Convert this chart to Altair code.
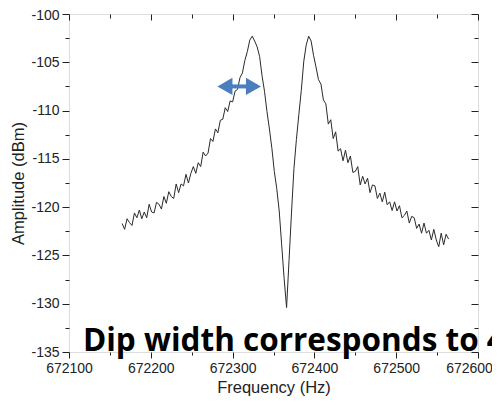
import altair as alt
import pandas as pd

freq = [
    672165, 672168, 672171, 672174, 672177, 672180, 672183, 672186, 672189, 672192,
    672195, 672198, 672201, 672204, 672207, 672210, 672213, 672216, 672219, 672222,
    672225, 672228, 672231, 672234, 672237, 672240, 672243, 672246, 672249, 672252,
    672255, 672258, 672261, 672264, 672267, 672270, 672273, 672276, 672279, 672282,
    672285, 672288, 672291, 672294, 672297, 672300, 672303, 672306, 672309, 672312,
    672315, 672318, 672321, 672324, 672327, 672330, 672333, 672336, 672339, 672342,
    672345, 672348, 672351, 672354, 672357, 672360, 672363, 672366, 672369, 672372,
    672375, 672378, 672381, 672384, 672387, 672390, 672393, 672396, 672399, 672402,
    672405, 672408, 672411, 672414, 672417, 672420, 672423, 672426, 672429, 672432,
    672435, 672438, 672441, 672444, 672447, 672450, 672453, 672456, 672459, 672462,
    672465, 672468, 672471, 672474, 672477, 672480, 672483, 672486, 672489, 672492,
    672495, 672498, 672501, 672504, 672507, 672510, 672513, 672516, 672519, 672522,
    672525, 672528, 672531, 672534, 672537, 672540, 672543, 672546, 672549, 672552,
    672555, 672558, 672561, 672564,
]

amplitude = [
    -121.7, -122.3, -121.2, -121.6, -121.9, -120.6, -121.1, -120.3, -121.2, -120.5,
    -121.1, -119.7, -120.5, -120.6, -119.5, -119.7, -120.2, -118.9, -119.6, -118.4,
    -118.9, -119.1, -117.6, -118.5, -117.6, -117.8, -116.6, -117.5, -116.5, -115.8,
    -116.5, -115.4, -115.8, -114.3, -114.7, -114.4, -112.9, -113.2, -111.9, -112.3,
    -111.0, -110.9, -109.7, -110.1, -109.0, -109.1, -108.0, -107.8, -106.6, -106.1,
    -104.8, -103.9, -102.7, -102.3, -102.8, -103.4, -104.4, -106.4, -108.0, -110.1,
    -111.9, -113.9, -116.3, -118.1, -120.4, -123.9, -127.4, -130.4, -125.5, -120.6,
    -116.0, -113.0, -110.4, -107.9, -104.9, -103.2, -102.3, -102.8, -104.3, -105.5,
    -106.8, -107.25, -108.9, -109.3, -111.4, -110.95, -112.9, -112.2, -114.2, -113.95,
    -115.2, -114.1, -115.4, -114.7, -116.4, -116.3, -115.8, -117.7, -116.8, -117.6,
    -117.0, -118.5, -117.7, -117.8, -119.1, -118.55, -119.45, -118.45, -119.75, -119.45,
    -120.35, -119.45, -120.4, -119.85, -121.1, -120.85, -120.4, -121.65, -120.95, -121.1,
    -122.2, -121.75, -122.7, -121.65, -122.7, -122.4, -123.4, -122.3, -123.4, -124.1,
    -122.7, -123.9, -122.8, -123.3,
]

x_major = [672100, 672200, 672300, 672400, 672500, 672600]
x_minor = [672150, 672250, 672350, 672450, 672550]
y_major = [-135, -130, -125, -120, -115, -110, -105, -100]
y_minor = [-132.5, -127.5, -122.5, -117.5, -112.5, -107.5, -102.5]

arrow_x = [672290.6, 672325.5]
arrow_y = [-107.5, -107.5]
arrow_shape = ["triangle-left", "triangle-right"]

note_text = ["Dip width corresponds to 4"]
note_x = [672117]
note_y = [-134.85]

df = pd.DataFrame({"f": freq, "a": amplitude})
arrow_df = pd.DataFrame({"x": arrow_x, "y": arrow_y, "shape": arrow_shape})
note_df = pd.DataFrame({"x": note_x, "y": note_y, "t": note_text})

xs = alt.Scale(domain=[672100, 672600], nice=False, zero=False)
ys = alt.Scale(domain=[-135, -100], nice=False, zero=False)

FONT = "Liberation Sans"
INK = "#222222"

lab = dict(labelFont=FONT, labelFontSize=14, labelColor=INK, tickColor=INK,
           labelFlush=False, labelOverlap=False,
           domain=False, grid=False, titleFont=FONT, titleFontSize=16.5,
           titleFontWeight="normal", titleColor=INK)

main = alt.Chart(df).mark_line(color="#2a2a2a", strokeWidth=1).encode(
    x=alt.X("f:Q", scale=xs, axis=alt.Axis(orient="bottom", values=x_major,
            labelExpr="'' + datum.value", tickSize=6, labelPadding=3,
            labelOffset={"condition": {"test": "datum.value == 672600", "value": -9}, "value": 0},
            title="Frequency (Hz)", titlePadding=4, **lab)),
    y=alt.Y("a:Q", scale=ys, axis=alt.Axis(orient="left", values=y_major,
            labelExpr="'' + datum.value", tickSize=7, labelPadding=3,
            labelOffset={"condition": {"test": "datum.value == -100", "value": 1.5}, "value": 0},
            title="Amplitude (dBm)", titlePadding=4, **lab)),
)

minor = alt.Chart(df).mark_line(strokeOpacity=0).encode(
    x=alt.X("f:Q", scale=xs, axis=alt.Axis(orient="bottom", values=x_minor,
            labels=False, tickSize=3, title="", domain=False, grid=False, tickColor=INK)),
    y=alt.Y("a:Q", scale=ys, axis=alt.Axis(orient="left", values=y_minor,
            labels=False, tickSize=4, title="", domain=False, grid=False, tickColor=INK)),
)

top_major = alt.Chart(df).mark_line(strokeOpacity=0).encode(
    x=alt.X("f:Q", scale=xs, axis=alt.Axis(orient="top", values=x_major,
            labels=False, tickSize=6, offset=-6, title="", domain=False, grid=False, tickColor=INK)),
    y=alt.Y("a:Q", scale=ys, axis=alt.Axis(orient="right", values=y_major,
            labels=False, tickSize=7, offset=-7, title="", domain=False, grid=False, tickColor=INK)),
)

top_minor = alt.Chart(df).mark_line(strokeOpacity=0).encode(
    x=alt.X("f:Q", scale=xs, axis=alt.Axis(orient="top", values=x_minor,
            labels=False, tickSize=4, offset=-4, title="", domain=False, grid=False, tickColor=INK)),
    y=alt.Y("a:Q", scale=ys, axis=alt.Axis(orient="right", values=y_minor,
            labels=False, tickSize=4, offset=-4, title="", domain=False, grid=False, tickColor=INK)),
)

arrow_shaft = alt.Chart(arrow_df).mark_line(color="#4A7EBD", strokeWidth=4).encode(
    x=alt.X("x:Q", scale=xs, axis=None),
    y=alt.Y("y:Q", scale=ys, axis=None),
)

arrow_heads = alt.Chart(arrow_df).mark_point(filled=True, opacity=1, color="#4A7EBD", size=300).encode(
    x=alt.X("x:Q", scale=xs, axis=None),
    y=alt.Y("y:Q", scale=ys, axis=None),
    shape=alt.Shape("shape:N", scale=None),
)

note = alt.Chart(note_df).mark_text(font="Open Sans", fontWeight="bold", fontSize=31.5,
                                    align="left", baseline="alphabetic", color="black").encode(
    x=alt.X("x:Q", scale=xs, axis=None),
    y=alt.Y("y:Q", scale=ys, axis=None),
    text="t:N",
)

chart = alt.layer(main, minor, top_major, top_minor, arrow_shaft, arrow_heads, note).resolve_axis(
    x="independent", y="independent"
).properties(
    width=409, height=338,
    padding={"left": 61, "top": 6, "right": 14, "bottom": 44},
    autosize=alt.AutoSizeParams(type="none"),
).configure_view(stroke=INK, strokeWidth=1.2).configure(background="white")

chart.save("out.html", embed_options={"renderer": "svg", "actions": False})
